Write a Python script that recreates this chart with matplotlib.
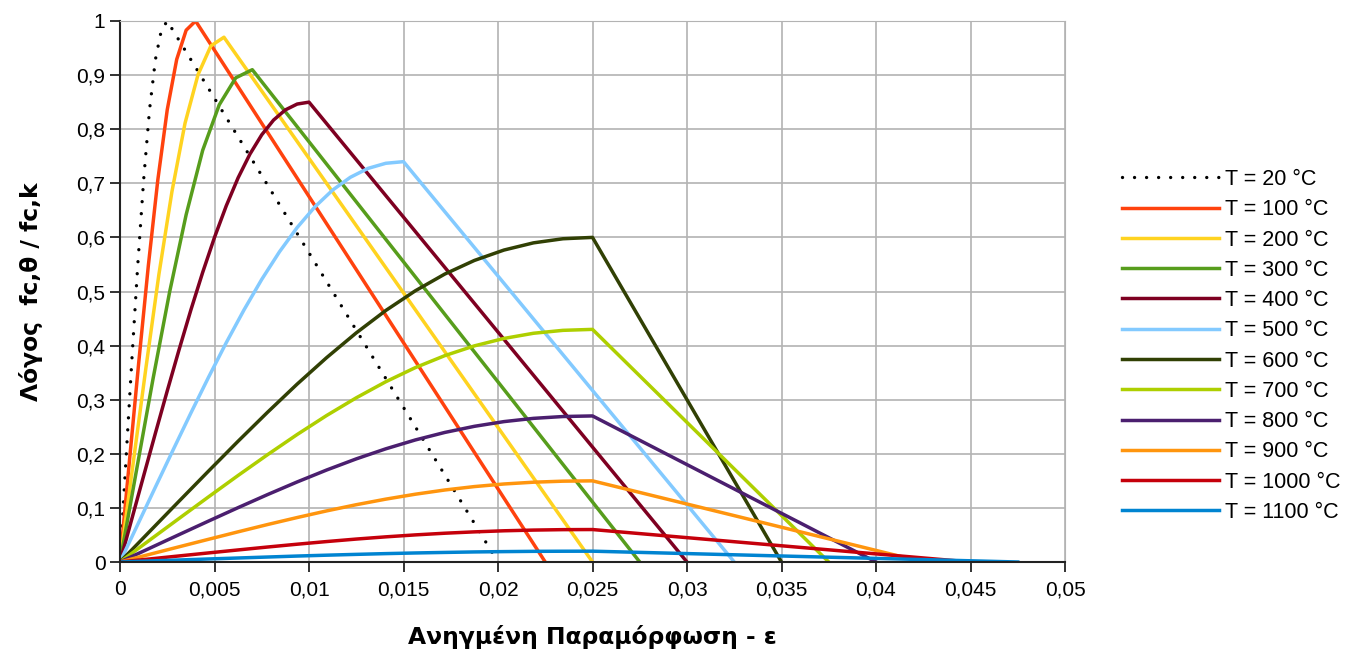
import matplotlib
matplotlib.use("Agg")
import matplotlib.pyplot as plt
from matplotlib.ticker import FuncFormatter

plt.rcParams['font.family'] = ['Liberation Sans', 'DejaVu Sans']

labels = ['T = 20 °C', 'T = 100 °C', 'T = 200 °C', 'T = 300 °C', 'T = 400 °C', 'T = 500 °C',
          'T = 600 °C', 'T = 700 °C', 'T = 800 °C', 'T = 900 °C', 'T = 1000 °C', 'T = 1100 °C']
colors = ['black', '#ff420e', '#ffd320', '#579d1c', '#7e0021', '#83caff',
          '#314004', '#aecf00', '#4b1f6f', '#ff950e', '#c5000b', '#0084d1']

# strain / stress-ratio points
eps_20 = [0, 0.0003125, 0.000625, 0.0009375, 0.00125, 0.0015625, 0.001875, 0.0021875, 0.0025, 0.02]
sig_20 = [0, 0.187, 0.372, 0.548, 0.706, 0.836, 0.929, 0.983, 1.0, 0]
eps_100 = [0, 0.0005, 0.001, 0.0015, 0.002, 0.0025, 0.003, 0.0035, 0.004, 0.0225]
sig_100 = [0, 0.187, 0.372, 0.548, 0.706, 0.836, 0.929, 0.983, 1.0, 0]
eps_200 = [0, 0.00069, 0.00138, 0.00206, 0.00275, 0.00344, 0.00413, 0.00481, 0.0055, 0.025]
sig_200 = [0, 0.181, 0.361, 0.532, 0.685, 0.811, 0.901, 0.954, 0.97, 0]
eps_300 = [0, 0.000875, 0.00175, 0.002625, 0.0035, 0.004375, 0.00525, 0.006125, 0.007, 0.0275]
sig_300 = [0, 0.170, 0.339, 0.499, 0.642, 0.761, 0.845, 0.895, 0.91, 0]
eps_400 = [0, 0.000625, 0.00125, 0.001875, 0.0025, 0.003125, 0.00375, 0.004375, 0.005,
           0.005625, 0.00625, 0.006875, 0.0075, 0.008125, 0.00875, 0.009375, 0.01, 0.03]
sig_400 = [0, 0.0796, 0.1592, 0.2383, 0.3163, 0.3924, 0.4659, 0.5354, 0.6000,
           0.6586, 0.7102, 0.7540, 0.7897, 0.8169, 0.8357, 0.8465, 0.85, 0]
eps_500 = [0, 0.0009375, 0.001875, 0.0028125, 0.00375, 0.0046875, 0.005625, 0.0065625, 0.0075,
           0.0084375, 0.009375, 0.0103125, 0.01125, 0.0121875, 0.013125, 0.0140625, 0.015, 0.0325]
sig_500 = [0, 0.0693, 0.1386, 0.2074, 0.2754, 0.3417, 0.4056, 0.4661, 0.5224,
           0.5734, 0.6183, 0.6565, 0.6875, 0.7111, 0.7276, 0.7370, 0.74, 0]
eps_hot = [0, 0.0015625, 0.003125, 0.0046875, 0.00625, 0.0078125, 0.009375, 0.0109375, 0.0125,
           0.0140625, 0.015625, 0.0171875, 0.01875, 0.0203125, 0.021875, 0.0234375, 0.025]
eps_600 = eps_hot + [0.035]
sig_600 = [0, 0.0562, 0.1124, 0.1682, 0.2233, 0.2770, 0.3289, 0.3779, 0.4235,
           0.4649, 0.5013, 0.5323, 0.5574, 0.5766, 0.5899, 0.5975, 0.6, 0]
eps_700 = eps_hot + [0.0375]
sig_700 = [0, 0.0403, 0.0805, 0.1205, 0.1600, 0.1985, 0.2357, 0.2709, 0.3035,
           0.3332, 0.3593, 0.3815, 0.3995, 0.4132, 0.4228, 0.4282, 0.43, 0]
eps_800 = eps_hot + [0.04]
sig_800 = [0, 0.0253, 0.0506, 0.0757, 0.1005, 0.1247, 0.1480, 0.1701, 0.1906,
           0.2092, 0.2256, 0.2395, 0.2508, 0.2595, 0.2655, 0.2689, 0.27, 0]
eps_900 = eps_hot + [0.0425]
sig_900 = [0, 0.0141, 0.0281, 0.0420, 0.0558, 0.0693, 0.0822, 0.0945, 0.1059,
           0.1162, 0.1253, 0.1331, 0.1394, 0.1442, 0.1475, 0.1494, 0.15, 0]
eps_1000 = eps_hot + [0.045]
sig_1000 = [0, 0.0056, 0.0112, 0.0168, 0.0223, 0.0277, 0.0329, 0.0378, 0.0424,
            0.0465, 0.0501, 0.0532, 0.0557, 0.0577, 0.0590, 0.0598, 0.06, 0]
eps_1100 = eps_hot + [0.0475]
sig_1100 = [0, 0.0019, 0.0037, 0.0056, 0.0074, 0.0092, 0.0110, 0.0126, 0.0141,
            0.0155, 0.0167, 0.0177, 0.0186, 0.0192, 0.0197, 0.0199, 0.02, 0]

curves = [(eps_20, sig_20), (eps_100, sig_100), (eps_200, sig_200), (eps_300, sig_300),
          (eps_400, sig_400), (eps_500, sig_500), (eps_600, sig_600), (eps_700, sig_700),
          (eps_800, sig_800), (eps_900, sig_900), (eps_1000, sig_1000), (eps_1100, sig_1100)]

fig = plt.figure(figsize=(13.46, 6.49), dpi=100)
ax = fig.add_axes([120/1346, 1-562/649, 945/1346, 541/649])

for i, (x, y) in enumerate(curves):
    if i == 0:
        ax.plot(x, y, color=colors[i], lw=2.4, ls=(0, (0.01, 3.6)), dash_capstyle='round', label=labels[i])
    else:
        ax.plot(x, y, color=colors[i], lw=2.5, label=labels[i])

ax.set_xlim(0, 0.05)
ax.set_ylim(0, 1)
ax.set_xticks([i*0.005 for i in range(11)])
ax.set_yticks([i*0.1 for i in range(11)])
fmt = FuncFormatter(lambda v, p: ('%g' % round(v, 4)).replace('.', ','))
ax.xaxis.set_major_formatter(fmt)
ax.yaxis.set_major_formatter(fmt)
ax.grid(color='#b3b3b3', lw=1.2)
ax.set_axisbelow(True)
for s in ['top', 'right']:
    ax.spines[s].set_color('#b3b3b3')
for s in ['left', 'bottom']:
    ax.spines[s].set_color('#222222')
    ax.spines[s].set_linewidth(1.5)
ax.tick_params(labelsize=15, length=7, width=1.3, color='#222222', direction='out')
ax.tick_params(axis='x', pad=6)

ax.set_xlabel('Ανηγμένη Παραμόρφωση - ε', fontsize=16.8, fontweight='bold',
              family='DejaVu Sans', labelpad=19)
ax.set_ylabel('Λόγος  fc,θ / fc,k', fontsize=16.8, fontweight='bold',
              family='DejaVu Sans', labelpad=24)

fig.legend(loc='upper left', bbox_to_anchor=(1122/1346, 1-169/649), frameon=False,
           borderpad=0, borderaxespad=0, fontsize=15.5, handlelength=4.5,
           labelspacing=0.43, handletextpad=0.3)

fig.savefig('out.png', dpi=100)
